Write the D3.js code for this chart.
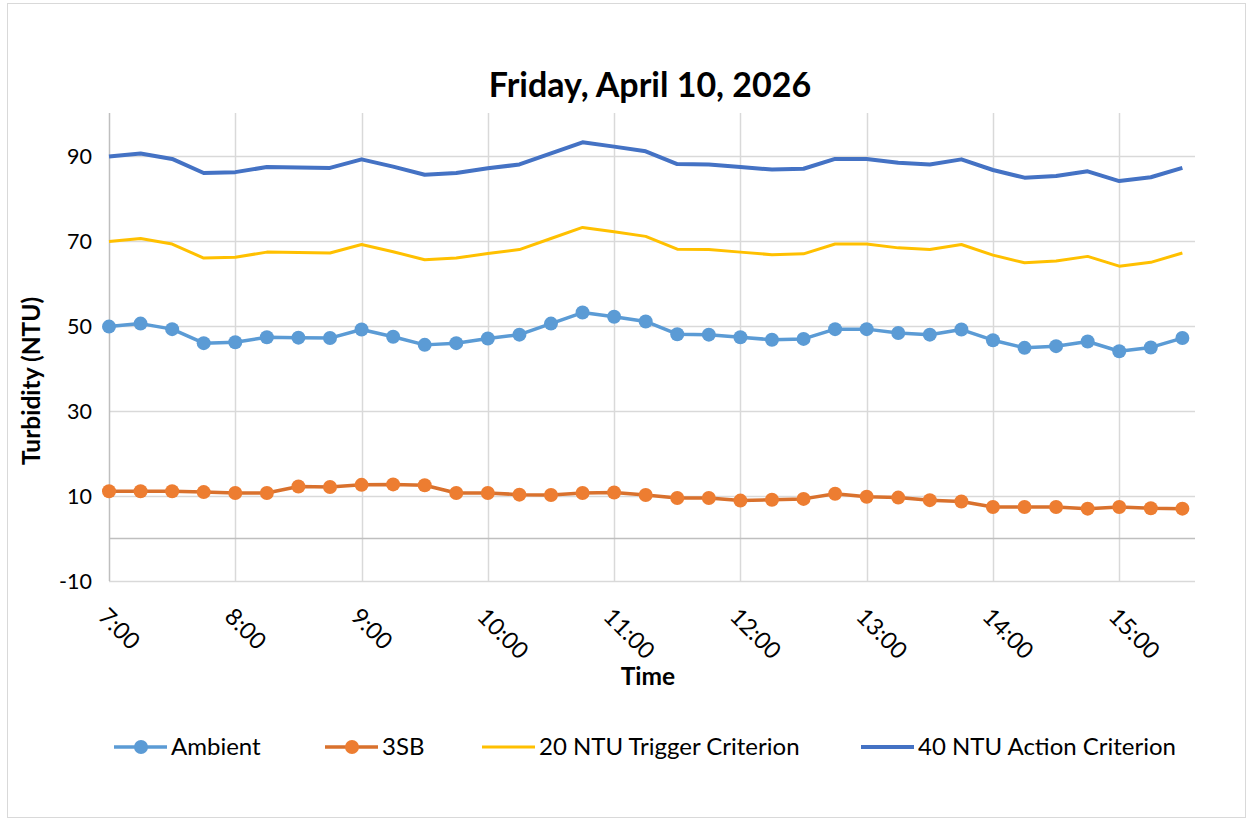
<!DOCTYPE html>
<html>
<head>
<meta charset="utf-8">
<script src="https://cdn.jsdelivr.net/npm/d3@7"></script>
<style>
  html, body { margin: 0; padding: 0; background: #fff; }
  svg { display: block; font-family: Lato, "Open Sans", sans-serif; }
</style>
</head>
<body>
<svg id="chart" width="1253" height="825"></svg>
<script>
const times = ["7:00","7:15","7:30","7:45","8:00","8:15","8:30","8:45","9:00","9:15","9:30","9:45",
  "10:00","10:15","10:30","10:45","11:00","11:15","11:30","11:45","12:00","12:15","12:30","12:45",
  "13:00","13:15","13:30","13:45","14:00","14:15","14:30","14:45","15:00","15:15","15:30"];
const ambient = [49.8,50.5,49.2,45.9,46.1,47.3,47.2,47.1,49.1,47.4,45.5,45.9,
  47.0,47.9,50.5,53.1,52.1,51.0,48.0,47.9,47.3,46.7,46.9,49.2,
  49.2,48.3,47.9,49.1,46.6,44.8,45.2,46.3,44.0,44.9,47.1];
const sb3 = [11.1,11.1,11.1,10.9,10.7,10.7,12.2,12.1,12.6,12.7,12.5,10.7,
  10.7,10.3,10.2,10.7,10.8,10.2,9.5,9.5,8.9,9.1,9.3,10.5,
  9.8,9.6,9.0,8.7,7.4,7.4,7.4,7.0,7.4,7.1,7.0];
const trigger = [69.8,70.5,69.2,65.9,66.1,67.3,67.2,67.1,69.1,67.4,65.5,65.9,
  67.0,67.9,70.5,73.1,72.1,71.0,68.0,67.9,67.3,66.7,66.9,69.2,
  69.2,68.3,67.9,69.1,66.6,64.8,65.2,66.3,64.0,64.9,67.1];
const action = [89.8,90.5,89.2,85.9,86.1,87.3,87.2,87.1,89.1,87.4,85.5,85.9,
  87.0,87.9,90.5,93.1,92.1,91.0,88.0,87.9,87.3,86.7,86.9,89.2,
  89.2,88.3,87.9,89.1,86.6,84.8,85.2,86.3,84.0,84.9,87.1];
const xTickLabels = ["7:00","8:00","9:00","10:00","11:00","12:00","13:00","14:00","15:00"];
const yTicks = [-10,10,30,50,70,90];
const seriesNames = ["Ambient","3SB","20 NTU Trigger Criterion","40 NTU Action Criterion"];
const title = "Friday, April 10, 2026";

const toHours = s => { const [h,m] = s.split(":").map(Number); return h + m/60; };

const svg = d3.select("#chart");
const plot = {left: 109, right: 1195, top: 113, bottom: 581};

// outer border
svg.append("rect").attr("x",7.5).attr("y",3.5).attr("width",1238).attr("height",814)
  .attr("fill","#fff").attr("stroke","#d9d9d9").attr("stroke-width",1);

const x = d3.scaleLinear().domain([7, 15.6]).range([plot.left, plot.right]);
const y = d3.scaleLinear().domain([-10, 100]).range([plot.bottom, plot.top]);

// gridlines horizontal
svg.append("g").selectAll("line").data(yTicks).join("line")
  .attr("x1", plot.left).attr("x2", plot.right)
  .attr("y1", d => Math.round(y(d))+0.5).attr("y2", d => Math.round(y(d))+0.5)
  .attr("stroke","#d9d9d9").attr("stroke-width",1.5);
// gridlines vertical
svg.append("g").selectAll("line").data(xTickLabels.slice(1)).join("line")
  .attr("x1", d => Math.round(x(toHours(d)))+0.5).attr("x2", d => Math.round(x(toHours(d)))+0.5)
  .attr("y1", plot.top).attr("y2", plot.bottom)
  .attr("stroke","#d9d9d9").attr("stroke-width",1.5);
// axis lines
svg.append("line").attr("x1",plot.left).attr("x2",plot.right)
  .attr("y1",Math.round(y(0))+0.5).attr("y2",Math.round(y(0))+0.5)
  .attr("stroke","#bfbfbf").attr("stroke-width",1.5);
svg.append("line").attr("x1",plot.left+0.5).attr("x2",plot.left+0.5)
  .attr("y1",plot.top).attr("y2",plot.bottom)
  .attr("stroke","#bfbfbf").attr("stroke-width",1.5);

// y axis labels
const yAxis = d3.axisLeft(y).tickValues(yTicks).tickSize(0).tickPadding(0).tickFormat(d => String(d));
const gy = svg.append("g").attr("transform", `translate(${92},0)`).call(yAxis);
gy.select(".domain").remove();
gy.selectAll("text").attr("font-size",21.5).attr("fill","#000").attr("font-family","Lato, sans-serif").attr("dy","0.35em");

// x axis labels rotated
const gx = svg.append("g");
gx.selectAll("text").data(xTickLabels).join("text")
  .attr("transform", d => `translate(${x(toHours(d)) - 12},${618}) rotate(45)`)
  .attr("font-size",23.5).attr("fill","#000").text(d => d);

// lines
const series = [
  {name: seriesNames[0], values: ambient, color: "#5B9BD5", lineColor: "#5B9BD5", width: 3.5, marker: true},
  {name: seriesNames[1], values: sb3, color: "#ED7D31", lineColor: "#D9712D", width: 3.5, marker: true},
  {name: seriesNames[2], values: trigger, color: "#FFC000", lineColor: "#FFC000", width: 3, marker: false},
  {name: seriesNames[3], values: action, color: "#4472C4", lineColor: "#4472C4", width: 4, marker: false}
];
const line = d3.line().x((d,i) => x(toHours(times[i]))).y(d => y(d));
series.forEach(s => {
  svg.append("path").datum(s.values).attr("d", line).attr("fill","none")
    .attr("stroke", s.lineColor).attr("stroke-width", s.width).attr("stroke-linejoin","round");
  if (s.marker) {
    svg.append("g").selectAll("circle").data(s.values).join("circle")
      .attr("cx", (d,i) => x(toHours(times[i]))).attr("cy", d => y(d)).attr("r", 7)
      .attr("fill", s.color);
  }
});

// title
svg.append("text").attr("x", 650).attr("y", 97).attr("text-anchor","middle")
  .attr("font-size", 34).attr("font-weight","bold").text(title);
// axis titles
svg.append("text").attr("x", 648).attr("y", 685).attr("text-anchor","middle")
  .attr("font-size", 24.5).attr("font-weight","bold").text("Time");
svg.append("text").attr("transform","translate(40,381) rotate(-90)").attr("text-anchor","middle")
  .attr("font-size", 24.5).attr("font-weight","bold").text("Turbidity (NTU)");

// legend
const legendX = [114, 325, 482, 861];
const lg = svg.append("g");
series.forEach((s,i) => {
  const g = lg.append("g").attr("transform", `translate(${legendX[i]},747)`);
  g.append("line").attr("x1",0).attr("x2",53).attr("y1",0).attr("y2",0)
    .attr("stroke", s.lineColor).attr("stroke-width", s.width);
  if (s.marker) g.append("circle").attr("cx",27).attr("cy",0).attr("r",7).attr("fill",s.color);
  g.append("text").attr("x",57).attr("y",0).attr("dy","0.35em").attr("font-size",24).text(s.name);
});
</script>
</body>
</html>
